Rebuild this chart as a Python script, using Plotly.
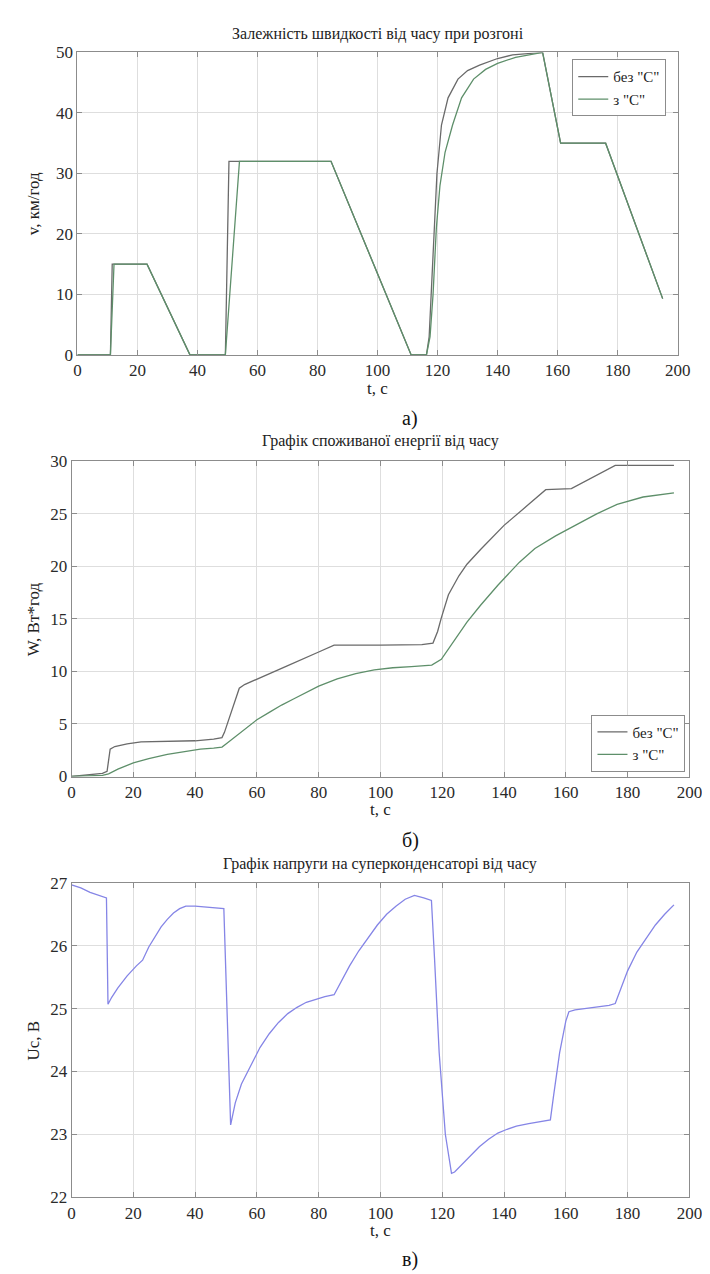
import plotly.graph_objects as go

# ---------------- data ----------------
# Panel a) speed vs time
t_speed_noC = [0, 11.0, 11.6, 23.2, 37.5, 49.3, 50.5, 84.5, 111.2, 116.3, 117.2, 118.0, 119.0, 119.8,
               121.3, 123.5, 126.8, 130, 134, 140, 145, 155, 161, 176, 195]
v_speed_noC = [0, 0, 15, 15, 0, 0, 32, 32, 0, 0, 3, 12, 21, 30,
               38, 42.5, 45.6, 47, 47.9, 49, 49.6, 50, 35, 35, 9.3]
t_speed_C = [0, 11.0, 12.2, 23.2, 37.5, 49.3, 54.0, 84.5, 111.2, 116.3, 117.5, 118.5, 119.6, 120.8,
             122.5, 125, 128, 132, 136, 140, 146, 155, 161, 176, 195]
v_speed_C = [0, 0, 15, 15, 0, 0, 32, 32, 0, 0, 3, 10, 21, 28,
             33.5, 38, 42.5, 45.6, 47.2, 48.2, 49.2, 50, 35, 35, 9.3]

# Panel б) consumed energy vs time
t_energy_noC = [0, 10, 11.5, 12.5, 14, 18, 22.5, 30, 40, 46, 48.7, 49.5, 54.3, 56, 60, 70, 80, 85,
                100, 113.4, 117, 118.5, 119.7, 122, 125.4, 128, 132.4, 140, 148, 153.5, 161.8, 176, 195]
w_energy_noC = [0, 0.3, 0.5, 2.6, 2.85, 3.1, 3.3, 3.35, 3.4, 3.55, 3.7, 4.2, 8.4, 8.75, 9.25, 10.55, 11.85, 12.5,
                12.5, 12.55, 12.7, 13.8, 15.1, 17.3, 19.1, 20.2, 21.6, 23.9, 25.9, 27.3, 27.4, 29.6, 29.6]
t_energy_C = [0, 10, 12, 15, 20, 25, 31, 36, 41.7, 46, 48.7, 50, 53, 56, 60, 64, 68, 72, 76, 80, 86, 92,
              98, 104, 110, 116.6, 119.7, 124, 128, 132.4, 138, 145, 150, 156.7, 165, 170, 176.6, 185, 195]
w_energy_C = [0, 0.1, 0.25, 0.7, 1.3, 1.7, 2.1, 2.35, 2.6, 2.7, 2.8, 3.1, 3.8, 4.5, 5.4, 6.1, 6.8, 7.4, 8.0, 8.6, 9.3, 9.8,
              10.15, 10.35, 10.45, 10.6, 11.15, 13.0, 14.7, 16.3, 18.2, 20.4, 21.7, 22.9, 24.2, 25.0, 25.9, 26.6, 27.0]

# Panel в) supercapacitor voltage vs time
t_volt = [0, 3, 6, 9, 11.3, 11.8, 13, 15, 18, 21, 23, 25, 27, 29, 31, 33, 35, 37, 40, 44, 49.3, 51.5,
          53, 55, 58, 61, 64, 67, 70, 73, 76, 79, 82, 85, 87, 90, 93, 96, 99, 102, 105, 108, 111, 114, 116.5,
          117.5, 119, 121, 123, 124, 126, 129, 132, 135, 138, 141, 144, 148, 152, 155, 156, 158, 160, 161,
          163, 166, 170, 174, 176, 178, 180, 183, 186, 189, 192, 195]
u_volt = [26.97, 26.92, 26.85, 26.8, 26.76, 25.07, 25.18, 25.33, 25.52, 25.68, 25.77, 25.98, 26.15, 26.3,
          26.42, 26.52, 26.59, 26.63, 26.63, 26.61, 26.59, 23.15,
          23.5, 23.8, 24.1, 24.38, 24.6, 24.78, 24.92, 25.02, 25.1, 25.15, 25.19, 25.22, 25.4, 25.68, 25.92,
          26.13, 26.33, 26.5, 26.63, 26.74, 26.8, 26.76, 26.72,
          25.8, 24.3, 23.0, 22.38, 22.4, 22.5, 22.65, 22.8, 22.92, 23.02, 23.08, 23.13, 23.17, 23.2, 23.23,
          23.6, 24.3, 24.8, 24.95, 24.98, 25.0, 25.03, 25.05, 25.08, 25.35, 25.6, 25.9, 26.12, 26.33, 26.5, 26.65]

x_ticks = [0, 20, 40, 60, 80, 100, 120, 140, 160, 180, 200]
name_noC = 'без "С"'
name_C = 'з "С"'
titles = ["Залежність швидкості від часу при розгоні",
          "Графік споживаної енергії від часу",
          "Графік напруги на суперконденсаторі від часу"]
ylabels = ["v, км/год", "W, Вт*год", "Uc, B"]
xlabel = "t, с"
captions = ["а)", "б)", "в)"]

# ---------------- layout helpers ----------------
W_PX, H_PX = 710, 1274
def px(x):
    return x / W_PX
def py(y):
    return 1 - y / H_PX

FONT = "Liberation Serif"
col_noC = "#6a6a6a"
col_C = "#5e8f6a"
col_U = "#8585e6"

fig = go.Figure()
fig.add_trace(go.Scatter(x=t_speed_noC, y=v_speed_noC, mode="lines", name=name_noC,
                         line=dict(color=col_noC, width=1.3), xaxis="x", yaxis="y", legend="legend"))
fig.add_trace(go.Scatter(x=t_speed_C, y=v_speed_C, mode="lines", name=name_C,
                         line=dict(color=col_C, width=1.3), xaxis="x", yaxis="y", legend="legend"))
fig.add_trace(go.Scatter(x=t_energy_noC, y=w_energy_noC, mode="lines", name=name_noC,
                         line=dict(color=col_noC, width=1.3), xaxis="x2", yaxis="y2", legend="legend2"))
fig.add_trace(go.Scatter(x=t_energy_C, y=w_energy_C, mode="lines", name=name_C,
                         line=dict(color=col_C, width=1.3), xaxis="x2", yaxis="y2", legend="legend2"))
fig.add_trace(go.Scatter(x=t_volt, y=u_volt, mode="lines", showlegend=False,
                         line=dict(color=col_U, width=1.3), xaxis="x3", yaxis="y3"))

# (x0, x1, ytop, ybottom, title_y, xlabel_y, caption_y) in pixels
panels = [
    (67, 682, 36, 343, 17, 377, 408),
    (61, 694, 451, 771, 430, 805, 836),
    (61, 694, 879, 1198, 860, 1232, 1261),
]
yranges = [(0, 50, 10), (0, 30, 5), (22, 27, 1)]

axis_common = dict(
    showline=True, linecolor="#8c8c8c", linewidth=1, mirror="ticks",
    ticks="inside", ticklen=5, tickcolor="#8c8c8c",
    showgrid=True, gridcolor="#dedede", gridwidth=1,
    zeroline=False,
    tickfont=dict(family=FONT, size=17, color="#2a2a2a"),
)

layout = dict(
    width=W_PX, height=H_PX,
    margin=dict(l=0, r=0, t=0, b=0),
    paper_bgcolor="white", plot_bgcolor="white",
    font=dict(family=FONT, color="#222"),
    annotations=[],
)
for i, ((x0, x1, yt, yb, ty, ly, cy), (ymin, ymax, dy)) in enumerate(zip(panels, yranges)):
    sx = "" if i == 0 else str(i + 1)
    xa = dict(axis_common, domain=[px(x0), px(x1)], range=[0, 200], tickvals=x_ticks,
              anchor="y" + sx)
    ya = dict(axis_common, domain=[py(yb), py(yt)], range=[ymin, ymax], dtick=dy, tick0=ymin,
              anchor="x" + sx)
    layout["xaxis" + sx] = xa
    layout["yaxis" + sx] = ya
    cx = (x0 + x1) / 2
    layout["annotations"] += [
        dict(text=titles[i], x=px(cx), y=py(ty), xref="paper", yref="paper",
             showarrow=False, font=dict(family=FONT, size=16, color="#222"),
             xanchor="center", yanchor="middle"),
        dict(text=xlabel, x=px(cx), y=py(ly), xref="paper", yref="paper",
             showarrow=False, font=dict(family=FONT, size=17, color="#222"),
             xanchor="center", yanchor="middle"),
        dict(text=ylabels[i], x=px(22), y=py((yt + yb) / 2), xref="paper", yref="paper",
             showarrow=False, textangle=-90, font=dict(family=FONT, size=17, color="#222"),
             xanchor="center", yanchor="middle"),
        dict(text=captions[i], x=px(408), y=py(cy), xref="paper", yref="paper",
             showarrow=False, font=dict(family=FONT, size=20, color="#111"),
             xanchor="center", yanchor="middle"),
    ]

leg_common = dict(bgcolor="white", bordercolor="#8c8c8c", borderwidth=1,
                  font=dict(family=FONT, size=15, color="#222"), itemwidth=30,
                  tracegroupgap=0)
layout["legend"] = dict(leg_common, x=px(574), y=py(43), xanchor="left", yanchor="top")
layout["legend2"] = dict(leg_common, x=px(690), y=py(766), xanchor="right", yanchor="bottom")

fig.update_layout(**layout)
fig.write_html("out.html")
